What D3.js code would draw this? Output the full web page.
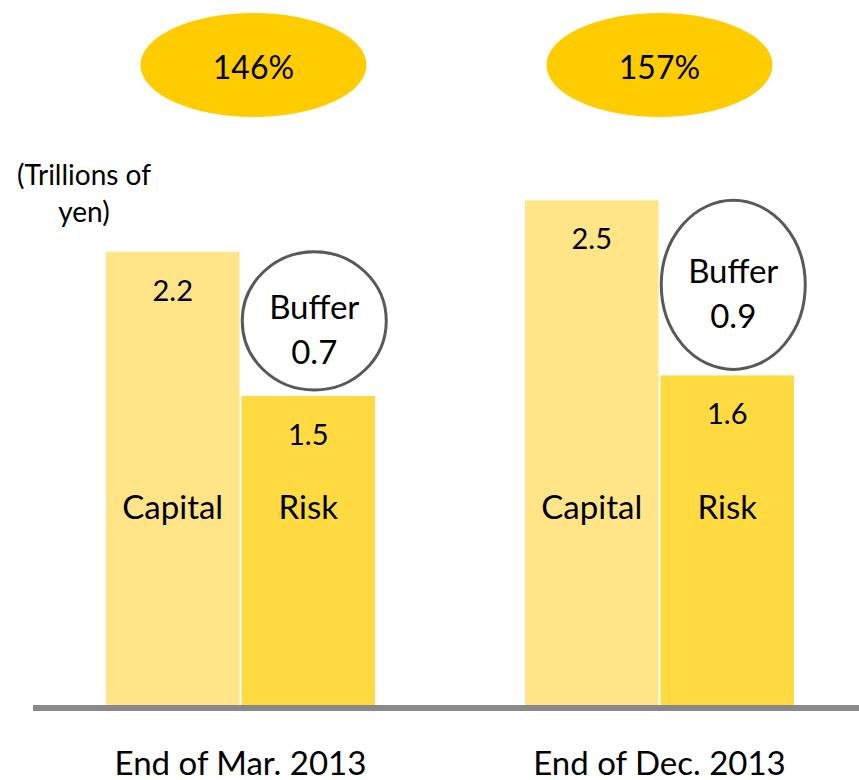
<!DOCTYPE html>
<html>
<head>
<meta charset="utf-8">
<title>Capital vs Risk</title>
<script src="https://d3js.org/d3.v7.min.js"></script>
<style>
  body { margin: 0; background: #fff; }
  text { font-family: Lato, "Open Sans", sans-serif; fill: #000; }
</style>
</head>
<body>
<svg width="859" height="780"></svg>
<script>
// data (trillions of yen)
var periods = ["End of Mar. 2013", "End of Dec. 2013"];
var seriesNames = ["Capital", "Risk"];
var capital = [2.2, 2.45];
var risk = [1.5, 1.6];
var ratios = ["146%", "157%"];

var svg = d3.select("svg"),
    width = +svg.attr("width"),
    height = +svg.attr("height");

var base = 705;

var y = d3.scaleLinear()
    .domain([0, 3])
    .range([base, base - 618]);

var x = d3.scaleBand()
    .domain(periods)
    .range([106, 794])
    .paddingInner(0.358)
    .paddingOuter(0);

var xs = d3.scaleBand()
    .domain(seriesNames)
    .range([0, x.bandwidth()])
    .paddingInner(0.015);

var color = { "Capital": "#ffe588", "Risk": "#ffda40" };

var rows = periods.map(function(p, i) {
  return { period: p, capital: capital[i], risk: risk[i], ratio: ratios[i] };
});

var groups = svg.selectAll("g.period")
  .data(rows)
  .enter().append("g")
    .attr("class", "period")
    .attr("transform", function(d) { return "translate(" + x(d.period) + ",0)"; });

// bars
groups.selectAll("rect")
  .data(function(d) { return [{ s: "Capital", v: d.capital }, { s: "Risk", v: d.risk }]; })
  .enter().append("rect")
    .attr("x", function(d) { return xs(d.s); })
    .attr("y", function(d) { return y(d.v); })
    .attr("width", xs.bandwidth())
    .attr("height", function(d) { return base - y(d.v); })
    .attr("fill", function(d) { return color[d.s]; });

// value labels inside bar tops
groups.selectAll("text.val")
  .data(function(d) { return [{ s: "Capital", v: d.capital }, { s: "Risk", v: d.risk }]; })
  .enter().append("text")
    .attr("class", "val")
    .attr("x", function(d) { return xs(d.s) + xs.bandwidth() / 2; })
    .attr("y", function(d) { return y(d.v) + 49; })
    .attr("text-anchor", "middle")
    .attr("font-size", 29)
    .text(function(d) { return d3.format(".1f")(d.v); });

// series names
groups.selectAll("text.name")
  .data(seriesNames)
  .enter().append("text")
    .attr("class", "name")
    .attr("x", function(d) { return xs(d) + xs.bandwidth() / 2; })
    .attr("y", 519)
    .attr("text-anchor", "middle")
    .attr("font-size", 33)
    .text(function(d) { return d; });

// buffer bubbles between capital top and risk top
groups.each(function(d) {
  var g = d3.select(this);
  var top = y(d.capital), bot = y(d.risk) - 6;
  var cx = xs("Risk") + xs.bandwidth() / 2 + 6;
  var cy = (top + bot) / 2;
  g.append("ellipse")
    .attr("cx", cx).attr("cy", cy)
    .attr("rx", 72).attr("ry", (bot - top) / 2)
    .attr("fill", "#fff")
    .attr("stroke", "#595959")
    .attr("stroke-width", 3);
  g.append("text")
    .attr("x", cx).attr("y", cy - 2)
    .attr("text-anchor", "middle")
    .attr("font-size", 33)
    .text("Buffer");
  g.append("text")
    .attr("x", cx).attr("y", cy + 43)
    .attr("text-anchor", "middle")
    .attr("font-size", 33)
    .text(d3.format(".1f")(d.capital - d.risk));
});

// ratio ellipses at top
var ratioOffset = [13, 0];
groups.each(function(d, i) {
  var g = d3.select(this);
  var cx = x.bandwidth() / 2 + ratioOffset[i];
  g.append("ellipse")
    .attr("cx", cx).attr("cy", 65)
    .attr("rx", 113).attr("ry", 52)
    .attr("fill", "#ffcc00");
  g.append("text")
    .attr("x", cx).attr("y", 79)
    .attr("text-anchor", "middle")
    .attr("font-size", 32)
    .text(d.ratio);
});

// baseline
svg.append("line")
    .attr("x1", 33).attr("x2", width)
    .attr("y1", base + 3).attr("y2", base + 3)
    .attr("stroke", "#898989")
    .attr("stroke-width", 6);

// category labels
svg.append("g").selectAll("text")
  .data(periods)
  .enter().append("text")
    .attr("x", function(d) { return x(d) + x.bandwidth() / 2; })
    .attr("y", 775)
    .attr("text-anchor", "middle")
    .attr("font-size", 33)
    .attr("fill", "#222")
    .text(function(d) { return d; });

// unit label
var unit = svg.append("text")
    .attr("text-anchor", "middle")
    .attr("font-size", 28)
    .attr("fill", "#222");
unit.append("tspan").attr("x", 84).attr("y", 185).text("(Trillions of");
unit.append("tspan").attr("x", 84).attr("y", 222).text("yen)");
</script>
</body>
</html>
